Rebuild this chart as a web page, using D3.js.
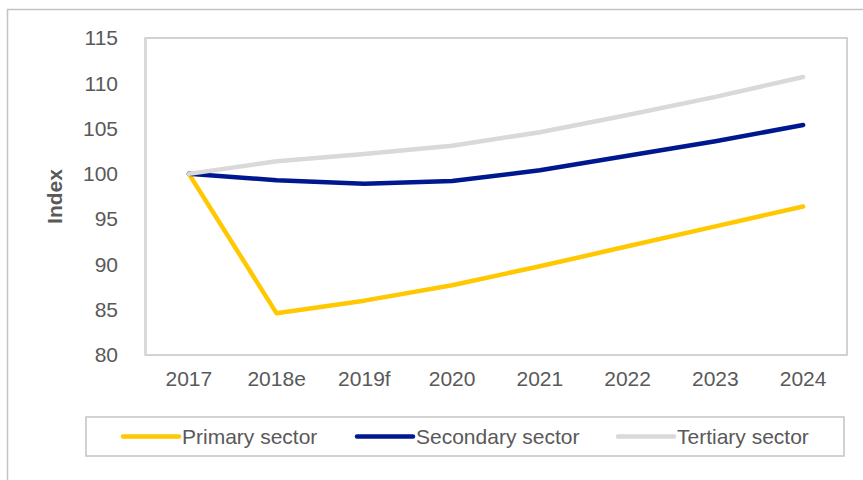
<!DOCTYPE html>
<html>
<head>
<meta charset="utf-8">
<script src="https://cdn.jsdelivr.net/npm/d3@7"></script>
<style>
  html, body { margin: 0; padding: 0; background: #fff; }
  svg { display: block; font-family: "Liberation Sans", Arial, sans-serif; }
</style>
</head>
<body>
<svg id="chart" width="863" height="480"></svg>
<script>
// Sector output index (2017 = 100)
const years = ["2017", "2018e", "2019f", "2020", "2021", "2022", "2023", "2024"];
const primary   = [100, 84.6, 86.0, 87.7, 89.8, 92.0, 94.2, 96.4];
const secondary = [100, 99.3, 98.9, 99.2, 100.4, 102.0, 103.6, 105.4];
const tertiary  = [100, 101.4, 102.2, 103.1, 104.6, 106.5, 108.5, 110.7];
const seriesNames = ["Primary sector", "Secondary sector", "Tertiary sector"];
const seriesColors = ["#FFC800", "#00188F", "#D9D9D9"];
const yTicks = [80, 85, 90, 95, 100, 105, 110, 115];

const series = [primary, secondary, tertiary].map((vals, i) => ({
  name: seriesNames[i],
  color: seriesColors[i],
  values: vals.map((v, j) => ({ year: years[j], value: v }))
}));

const svg = d3.select("#chart");
const W = 863, H = 480;
const plot = { left: 145, top: 38, right: 847, bottom: 355 };
const textColor = "#595959";
const fontSize = 21;

// Outer chart frame
svg.append("path")
  .attr("d", `M7.5,${H} V9.5 H${W}`)
  .attr("fill", "none")
  .attr("stroke", "#c3c3c3")
  .attr("stroke-width", 1.5);

const x = d3.scaleBand().domain(years).range([plot.left, plot.right]).padding(0);
const y = d3.scaleLinear().domain([80, 115]).range([plot.bottom, plot.top]);

// Plot area border
svg.append("rect")
  .attr("x", plot.left).attr("y", plot.top)
  .attr("width", plot.right - plot.left).attr("height", plot.bottom - plot.top)
  .attr("fill", "none").attr("stroke", "#c3c3c3").attr("stroke-width", 1.5);

// Y axis line
svg.append("line")
  .attr("x1", plot.left + 0.5).attr("x2", plot.left + 0.5)
  .attr("y1", plot.top).attr("y2", plot.bottom)
  .attr("stroke", "#d9d9d9").attr("stroke-width", 3);

// Y axis
const yAxis = svg.append("g")
  .attr("transform", `translate(${plot.left},0)`)
  .call(d3.axisLeft(y).tickValues(yTicks).tickSize(0).tickPadding(27));
yAxis.select(".domain").remove();
yAxis.selectAll("text")
  .attr("fill", textColor).attr("font-size", fontSize)
  .attr("font-family", "Liberation Sans, Arial, sans-serif");

// X axis
const xAxis = svg.append("g")
  .attr("transform", `translate(0,${plot.bottom})`)
  .call(d3.axisBottom(x).tickSize(0).tickPadding(16));
xAxis.select(".domain").remove();
xAxis.selectAll("text")
  .attr("fill", textColor).attr("font-size", fontSize)
  .attr("font-family", "Liberation Sans, Arial, sans-serif");

// Y axis title
svg.append("text")
  .attr("transform", `translate(62,${(plot.top + plot.bottom) / 2}) rotate(-90)`)
  .attr("text-anchor", "middle")
  .attr("fill", textColor)
  .attr("font-size", fontSize)
  .attr("font-weight", "bold")
  .text("Index");

// Series lines
const line = d3.line()
  .x(d => x(d.year) + x.bandwidth() / 2)
  .y(d => y(d.value));

svg.append("g").selectAll("path")
  .data(series)
  .join("path")
  .attr("d", d => line(d.values))
  .attr("fill", "none")
  .attr("stroke", d => d.color)
  .attr("stroke-width", 4.5)
  .attr("stroke-linecap", "round")
  .attr("stroke-linejoin", "round");

// Legend
const legend = svg.append("g");
legend.append("rect")
  .attr("x", 86).attr("y", 417)
  .attr("width", 758).attr("height", 39)
  .attr("fill", "#fff").attr("stroke", "#c3c3c3").attr("stroke-width", 1.5);

const legendX = [123, 357, 618];
const items = legend.selectAll("g.item")
  .data(series)
  .join("g")
  .attr("class", "item")
  .attr("transform", (d, i) => `translate(${legendX[i]},436.5)`);
items.append("line")
  .attr("x1", 0).attr("x2", 56)
  .attr("stroke", d => d.color)
  .attr("stroke-width", 4.5)
  .attr("stroke-linecap", "round");
items.append("text")
  .attr("x", 59).attr("dy", "0.35em")
  .attr("fill", textColor)
  .attr("font-size", fontSize)
  .text(d => d.name);
</script>
</body>
</html>
